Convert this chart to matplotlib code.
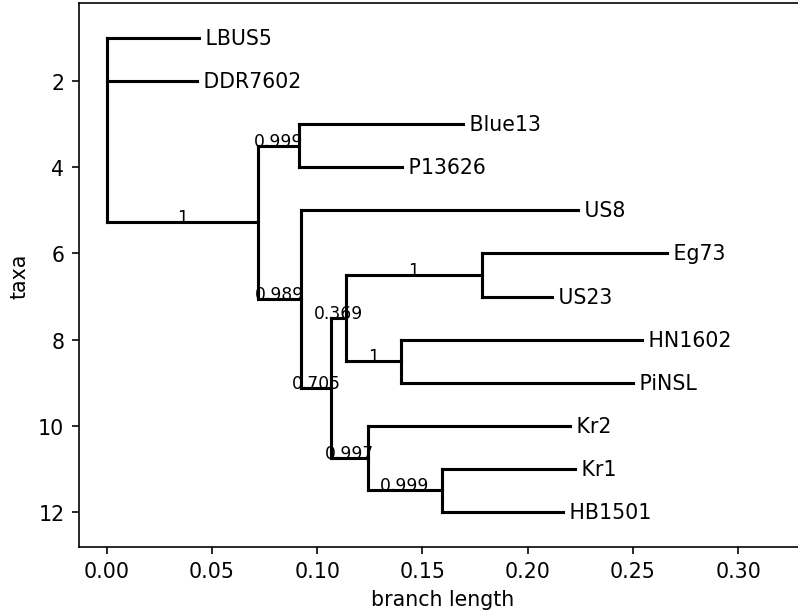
import matplotlib
matplotlib.use("Agg")
import matplotlib.pyplot as plt

# Tree data: node name, parent, branch length, support (None = no label)
nodes = ["root", "LBUS5", "DDR7602", "A", "B", "Blue13", "P13626", "C", "US8",
         "D", "E", "F", "Eg73", "US23", "G", "HN1602", "PiNSL", "H", "Kr2",
         "I", "Kr1", "HB1501"]
parents = [None, "root", "root", "root", "A", "B", "B", "A", "C",
           "C", "D", "E", "F", "F", "E", "G", "G", "D", "H",
           "H", "I", "I"]
branch_lengths = [0.0, 0.0440, 0.0431, 0.0720, 0.0195, 0.0776, 0.0486, 0.0202, 0.1318,
                  0.0144, 0.0071, 0.0644, 0.0879, 0.0336, 0.0260, 0.1145, 0.1105, 0.0177, 0.0958,
                  0.0348, 0.0634, 0.0578]
supports = [None, None, None, "1", "0.999", None, None, "0.989", None,
            "0.705", "0.369", "1", None, None, "1", None, None, "0.997", None,
            "0.999", None, None]

children = {n: [] for n in nodes}
for n, p in zip(nodes, parents):
    if p is not None:
        children[p].append(n)
blen = dict(zip(nodes, branch_lengths))
supp = dict(zip(nodes, supports))

# x positions (depth)
xpos = {}
def set_x(n, x0):
    xpos[n] = x0 + blen[n]
    for c in children[n]:
        set_x(c, xpos[n])
set_x("root", 0.0)

# y positions: tips 1..N in order, internal = midpoint of first/last child
ypos = {}
counter = [0]
def set_y(n):
    if not children[n]:
        counter[0] += 1
        ypos[n] = counter[0]
    else:
        for c in children[n]:
            set_y(c)
        ypos[n] = 0.5 * (ypos[children[n][0]] + ypos[children[n][-1]])
set_y("root")

W, H = 799, 614
DPI = 148
fig = plt.figure(figsize=(W / DPI, H / DPI), dpi=DPI)
xmax = max(xpos.values())
scale = 2105.0
ax_left = 106.7 - 0.05 * xmax * scale
ax_width = 1.3 * xmax * scale
ax = fig.add_axes([ax_left / W, 1 - 547.5 / H, ax_width / W, (547.5 - 4.4) / H])

lw = 1.5
def draw(n, x_start):
    xh, yh = xpos[n], ypos[n]
    ax.plot([x_start, xh], [yh, yh], color="black", lw=lw, solid_capstyle="projecting")
    if not children[n]:
        ax.text(xh, yh, " " + n, va="center", fontsize=10)
    if supp[n]:
        ax.text(0.5 * (x_start + xh), yh, supp[n], fontsize="small", ha="center")
    if children[n]:
        ax.plot([xh, xh], [ypos[children[n][0]], ypos[children[n][-1]]],
                color="black", lw=lw, solid_capstyle="projecting")
        for c in children[n]:
            draw(c, xh)
draw("root", 0.0)

ax.set_xlim(-0.05 * xmax, 1.25 * xmax)
ax.set_ylim(max(ypos.values()) + 0.8, 0.2)
ax.set_xlabel("branch length")
ax.set_ylabel("taxa")

fig.savefig("out.png", dpi=DPI)
